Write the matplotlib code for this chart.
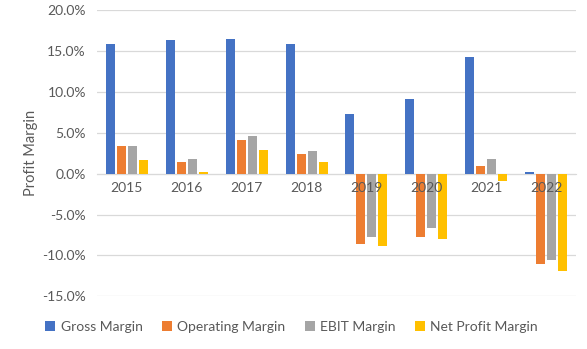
import numpy as np
import matplotlib
matplotlib.use("Agg")
import matplotlib.pyplot as plt
from matplotlib.ticker import FuncFormatter

years = ["2015", "2016", "2017", "2018", "2019", "2020", "2021", "2022"]
gross_margin = [15.9, 16.4, 16.5, 15.9, 7.25, 9.1, 14.3, 0.2]
operating_margin = [3.35, 1.4, 4.1, 2.4, -8.55, -7.7, 0.9, -11.1]
ebit_margin = [3.35, 1.75, 4.6, 2.75, -7.8, -6.7, 1.75, -10.5]
net_profit_margin = [1.65, 0.2, 2.9, 1.4, -8.9, -7.95, -0.9, -11.85]

series = [
    ("Gross Margin", gross_margin, "#4472C4"),
    ("Operating Margin", operating_margin, "#ED7D31"),
    ("EBIT Margin", ebit_margin, "#A5A5A5"),
    ("Net Profit Margin", net_profit_margin, "#FFC000"),
]

TXT = "#595959"
plt.rcParams["font.family"] = ["Lato", "DejaVu Sans"]

fig = plt.figure(figsize=(5.87, 3.49), dpi=100)
W, H = 587, 349
ax = fig.add_axes([97 / W, 1 - 296.3 / H, (576 - 97) / W, (296.3 - 10.3) / H])

x = np.arange(len(years))
step = 11 / 60
width = 9 / 60
for k, (name, vals, col) in enumerate(series):
    ax.bar(x + (k - 1.5) * step, vals, width, color=col, label=name, zorder=3)

ax.set_xlim(-0.5, len(years) - 0.5)
ax.set_ylim(-15, 20)
ax.set_yticks(np.arange(-15, 20.1, 5))
ax.yaxis.set_major_formatter(FuncFormatter(lambda v, p: f"{v:.1f}%"))
ax.grid(axis="y", color="#D9D9D9", lw=0.9)
# gridlines under the bars, year labels on top of them
ax.yaxis.set_zorder(1)
ax.xaxis.set_zorder(4)
for s in ["top", "right", "left"]:
    ax.spines[s].set_visible(False)
ax.spines["bottom"].set_position(("data", 0))
ax.spines["bottom"].set_color("#D9D9D9")
ax.spines["bottom"].set_zorder(2)
ax.set_xticks(x)
ax.set_xticklabels(years)
ax.tick_params(axis="both", length=0, labelsize=10, colors=TXT)
ax.tick_params(axis="x", pad=6)
ax.tick_params(axis="y", pad=8)
ax.set_ylabel("Profit Margin", color=TXT, fontsize=10.5, labelpad=3)

fig.legend(loc="center", bbox_to_anchor=(0.497, 1 - 326.7 / H), ncol=4, frameon=False,
           fontsize=10, labelcolor=TXT, handlelength=0.7, handleheight=0.7,
           handletextpad=0.4, columnspacing=1.4)

fig.savefig("out.png", dpi=100)
